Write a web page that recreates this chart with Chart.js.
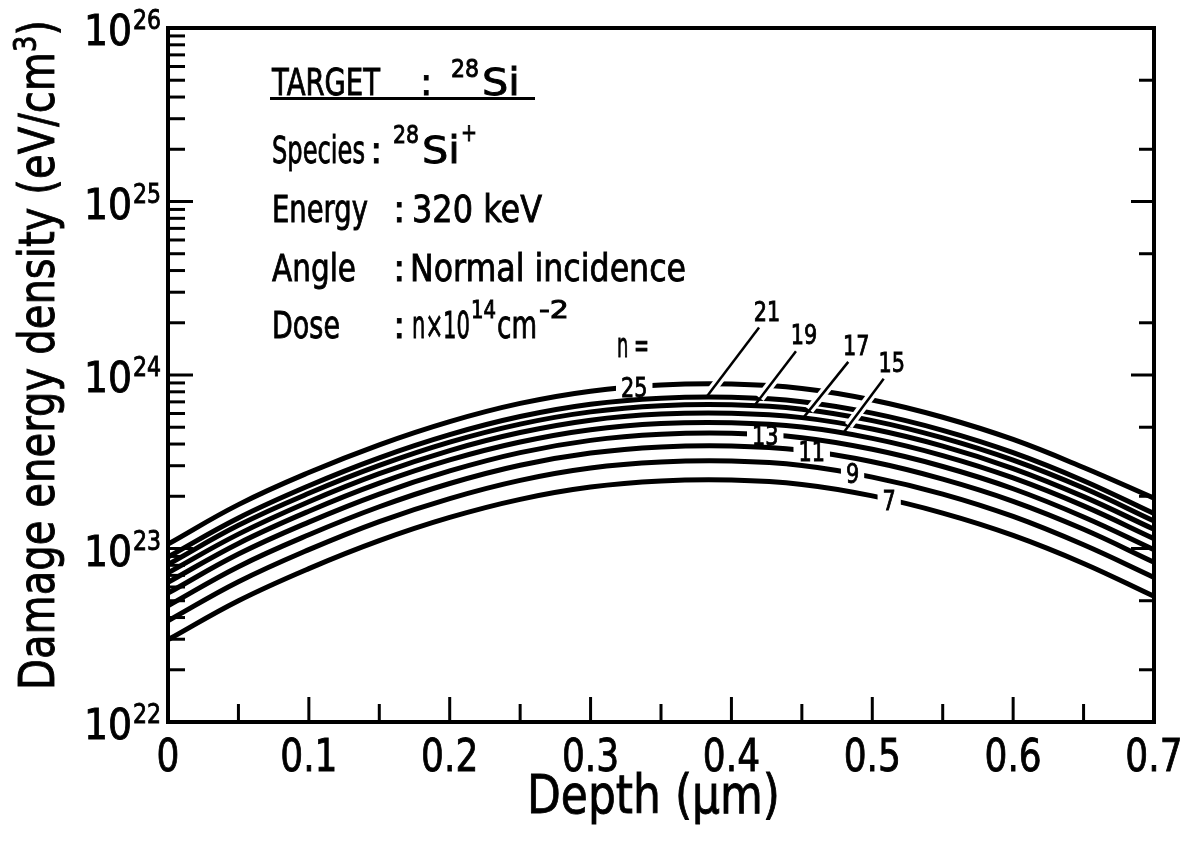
<!DOCTYPE html>
<html>
<head>
<meta charset="utf-8">
<script src="https://cdn.jsdelivr.net/npm/chart.js@4.4.0/dist/chart.umd.min.js"></script>
<style>
    html, body { margin: 0; padding: 0; background: #fff; }
    #damageChart { display: block; }
</style>
</head>
<body>
<canvas id="damageChart" width="1196" height="842"></canvas>
<script>
// depth in micrometres
const depth = [0, 0.05, 0.1, 0.15, 0.2, 0.25, 0.3, 0.35, 0.4, 0.45, 0.5, 0.55, 0.6, 0.65, 0.7];

// damage energy density (eV/cm3), dose = n x 1e14 cm-2
const dens7  = [2.98e22, 5.00e22, 7.66e22, 1.11e23, 1.51e23, 1.92e23, 2.26e23, 2.45e23, 2.48e23, 2.34e23, 2.01e23, 1.60e23, 1.19e23, 8.20e22, 5.30e22];
const dens9  = [3.83e22, 6.43e22, 9.85e22, 1.43e23, 1.94e23, 2.47e23, 2.91e23, 3.15e23, 3.19e23, 3.01e23, 2.58e23, 2.06e23, 1.53e23, 1.05e23, 6.81e22];
const dens11 = [4.68e22, 7.86e22, 1.20e23, 1.74e23, 2.37e23, 3.02e23, 3.55e23, 3.85e23, 3.90e23, 3.68e23, 3.16e23, 2.51e23, 1.87e23, 1.29e23, 8.33e22];
const dens13 = [5.53e22, 9.29e22, 1.42e23, 2.06e23, 2.80e23, 3.57e23, 4.20e23, 4.55e23, 4.61e23, 4.35e23, 3.73e23, 2.97e23, 2.21e23, 1.52e23, 9.84e22];
const dens15 = [6.39e22, 1.07e23, 1.64e23, 2.38e23, 3.24e23, 4.11e23, 4.84e23, 5.25e23, 5.31e23, 5.01e23, 4.31e23, 3.43e23, 2.55e23, 1.76e23, 1.14e23];
const dens17 = [7.24e22, 1.21e23, 1.86e23, 2.70e23, 3.67e23, 4.66e23, 5.49e23, 5.95e23, 6.02e23, 5.68e23, 4.88e23, 3.89e23, 2.89e23, 1.99e23, 1.29e23];
const dens19 = [8.09e22, 1.36e23, 2.08e23, 3.01e23, 4.10e23, 5.21e23, 6.13e23, 6.65e23, 6.73e23, 6.35e23, 5.46e23, 4.34e23, 3.23e23, 2.23e23, 1.44e23];
const dens21 = [8.94e22, 1.50e23, 2.30e23, 3.33e23, 4.53e23, 5.76e23, 6.78e23, 7.35e23, 7.44e23, 7.02e23, 6.03e23, 4.80e23, 3.57e23, 2.46e23, 1.59e23];
const dens25 = [1.06e23, 1.79e23, 2.74e23, 3.96e23, 5.39e23, 6.86e23, 8.07e23, 8.75e23, 8.86e23, 8.36e23, 7.18e23, 5.71e23, 4.25e23, 2.93e23, 1.95e23];

const doseN = [7, 9, 11, 13, 15, 17, 19, 21, 25];
const seriesList = [dens7, dens9, dens11, dens13, dens15, dens17, dens19, dens21, dens25];

// axis ticks
const xMajorTicks = [0, 0.1, 0.2, 0.3, 0.4, 0.5, 0.6, 0.7];
const xTickLabels = ['0', '0.1', '0.2', '0.3', '0.4', '0.5', '0.6', '0.7'];
const xMinorTicks = [0.05, 0.15, 0.25, 0.35, 0.45, 0.55, 0.65];
const yDecades = [22, 23, 24, 25, 26];
const leftMinor = [2, 3, 4, 5, 6, 7, 8, 9];
const rightMinor = [2, 5];

// curve labels: written into a gap of the curve, or at the end of a leader line
const inlineLabels = [
    { n: 25, depth: 0.331 },
    { n: 13, depth: 0.424 },
    { n: 11, depth: 0.457 },
    { n: 9, depth: 0.486 },
    { n: 7, depth: 0.512 }
];
const leaderLabels = [
    { n: 21, depth: 0.382, dx: 53, dy: -70 },
    { n: 19, depth: 0.416, dx: 42, dy: -55 },
    { n: 17, depth: 0.451, dx: 45, dy: -56 },
    { n: 15, depth: 0.479, dx: 41, dy: -55 }
];

const FONT = '"DejaVu Sans", sans-serif';

function valueAt(n, d) {
    const arr = seriesList[doseN.indexOf(n)];
    let i = 0;
    while (i < depth.length - 2 && depth[i + 1] < d) i++;
    const t = (d - depth[i]) / (depth[i + 1] - depth[i]);
    const l = Math.log10(arr[i]) * (1 - t) + Math.log10(arr[i + 1]) * t;
    return Math.pow(10, l);
}

// draw text with a horizontal squeeze, either a fixed factor or fitted to a width
function drawText(ctx, text, x, y, size, opts = {}) {
    ctx.save();
    ctx.font = `${size}px ${FONT}`;
    const w = ctx.measureText(text).width;
    const sx = opts.width ? opts.width / w : (opts.sx || 1);
    ctx.translate(x, y);
    ctx.scale(sx, 1);
    ctx.textAlign = opts.align || 'left';
    ctx.textBaseline = 'alphabetic';
    ctx.fillStyle = '#000';
    ctx.fillText(text, 0, 0);
    // a thin outline thickens the strokes a little, like pen lettering
    ctx.strokeStyle = '#000';
    ctx.lineWidth = 0.9;
    ctx.strokeText(text, 0, 0);
    ctx.restore();
    return w * sx;
}

const annotate = {
    id: 'annotate',
    afterDatasetsDraw(chart) {
        const { ctx, scales: { x, y } } = chart;
        ctx.save();

        // leader lines with a white halo so that crossed curves show a gap
        leaderLabels.forEach(l => {
            const cx = x.getPixelForValue(l.depth);
            const cy = y.getPixelForValue(valueAt(l.n, l.depth));
            const tx = cx + l.dx, ty = cy + l.dy;
            const len = Math.hypot(l.dx, l.dy);
            ctx.lineCap = 'butt';
            ctx.strokeStyle = '#fff';
            ctx.lineWidth = 9;
            ctx.beginPath();
            ctx.moveTo(cx + l.dx / len * 10, cy + l.dy / len * 10);
            ctx.lineTo(tx, ty);
            ctx.stroke();
            ctx.strokeStyle = '#000';
            ctx.lineWidth = 2.5;
            ctx.beginPath();
            ctx.moveTo(cx, cy);
            ctx.lineTo(tx, ty);
            ctx.stroke();
            drawText(ctx, String(l.n), tx + 8, ty - 7, 26, { sx: 0.8, align: 'center' });
        });

        inlineLabels.forEach(l => {
            const cx = x.getPixelForValue(l.depth);
            const cy = y.getPixelForValue(valueAt(l.n, l.depth));
            ctx.font = `26px ${FONT}`;
            const w = ctx.measureText(String(l.n)).width * 0.8;
            ctx.fillStyle = '#fff';
            ctx.fillRect(cx - w / 2 - 5, cy - 6, w + 10, 12);
            drawText(ctx, String(l.n), cx, cy + 9.5, 26, { sx: 0.8, align: 'center' });
        });

        drawText(ctx, 'n =', 617, 357, 34, { width: 32 });
        ctx.restore();
    },
    afterDraw(chart) {
        const { ctx, chartArea: a, scales: { x, y } } = chart;
        ctx.save();
        ctx.strokeStyle = '#000';
        ctx.fillStyle = '#000';

        // frame
        ctx.lineWidth = 4;
        ctx.strokeRect(a.left, a.top, a.right - a.left, a.bottom - a.top);

        // inward ticks
        ctx.lineWidth = 3;
        const tick = (x1, y1, x2, y2) => { ctx.beginPath(); ctx.moveTo(x1, y1); ctx.lineTo(x2, y2); ctx.stroke(); };
        xMajorTicks.forEach(v => { const px = x.getPixelForValue(v); tick(px, a.bottom, px, a.bottom - 25); });
        xMinorTicks.forEach(v => { const px = x.getPixelForValue(v); tick(px, a.bottom, px, a.bottom - 18); });
        yDecades.forEach(k => {
            const py = y.getPixelForValue(Math.pow(10, k));
            tick(a.left, py, a.left + 25, py);
            tick(a.right, py, a.right - 23, py);
            if (k < 26) {
                leftMinor.forEach(m => {
                    const pm = y.getPixelForValue(m * Math.pow(10, k));
                    tick(a.left, pm, a.left + 17, pm);
                });
                rightMinor.forEach(m => {
                    const pm = y.getPixelForValue(m * Math.pow(10, k));
                    tick(a.right, pm, a.right - 15, pm);
                });
            }
        });

        // tick labels
        xMajorTicks.forEach((v, i) => {
            drawText(ctx, xTickLabels[i], x.getPixelForValue(v), 771, 45, { sx: 0.8, align: 'center' });
        });
        yDecades.forEach(k => {
            const py = y.getPixelForValue(Math.pow(10, k));
            drawText(ctx, '10', 84, py + 17, 42, { width: 48 });
            drawText(ctx, String(k), 133, py + 1, 26, { width: 28 });
        });

        // axis titles
        drawText(ctx, 'Depth (\u03bcm)', 527, 813, 54, { width: 253 });
        ctx.save();
        ctx.translate(54, 355);
        ctx.rotate(-Math.PI / 2);
        ctx.font = `50px ${FONT}`;
        const wMain = ctx.measureText('Damage energy density (eV/cm').width;
        ctx.font = `32px ${FONT}`;
        const wSup = ctx.measureText('3').width;
        ctx.font = `50px ${FONT}`;
        const wEnd = ctx.measureText(')').width;
        const sx = 670 / (wMain + wSup + wEnd);
        const x0 = -335;
        drawText(ctx, 'Damage energy density (eV/cm', x0, 0, 50, { sx });
        drawText(ctx, '3', x0 + wMain * sx, -18, 32, { sx });
        drawText(ctx, ')', x0 + (wMain + wSup) * sx, 0, 50, { sx });
        ctx.restore();

        // info block
        drawText(ctx, 'TARGET', 272, 95, 37, { width: 108 });
        drawText(ctx, ':', 420, 95, 37);
        drawText(ctx, '28', 451, 77, 24, { width: 28 });
        drawText(ctx, 'Si', 482, 95, 37, { sx: 1.12 });
        ctx.fillStyle = '#000';
        ctx.fillRect(270, 97, 265, 3);

        drawText(ctx, 'Species', 272, 163, 37, { width: 93 });
        drawText(ctx, ':', 370, 163, 37);
        drawText(ctx, '28', 393, 143, 24, { width: 26 });
        drawText(ctx, 'Si', 422, 163, 37, { sx: 1.12 });
        drawText(ctx, '+', 461, 141, 24, { width: 16 });

        drawText(ctx, 'Energy', 272, 222, 37, { width: 96 });
        drawText(ctx, ':', 393, 222, 37);
        drawText(ctx, '320 keV', 412, 222, 37, { width: 130 });

        drawText(ctx, 'Angle', 272, 281, 37, { width: 84 });
        drawText(ctx, ':', 393, 281, 37);
        drawText(ctx, 'Normal incidence', 410, 281, 37, { width: 276 });

        drawText(ctx, 'Dose', 272, 338, 37, { width: 68 });
        drawText(ctx, ':', 393, 338, 37);
        drawText(ctx, 'n\u00d710', 412, 338, 37, { width: 58 });
        drawText(ctx, '14', 471, 318, 24, { width: 25 });
        drawText(ctx, 'cm', 497, 338, 37, { width: 40 });
        drawText(ctx, '-2', 539, 318, 24, { width: 30 });
        ctx.restore();
    }
};

const datasets = doseN.map((n, i) => ({
    label: 'n = ' + n,
    data: depth.map((d, j) => ({ x: d, y: seriesList[i][j] })),
    borderColor: '#000',
    borderWidth: 5,
    pointRadius: 0,
    fill: false,
    tension: 0.4
}));

new Chart(document.getElementById('damageChart').getContext('2d'), {
    type: 'line',
    data: { datasets },
    options: {
        responsive: false,
        devicePixelRatio: 1,
        animation: false,
        layout: { padding: { left: 168, right: 42, top: 28, bottom: 120 } },
        plugins: { legend: { display: false }, tooltip: { enabled: false } },
        scales: {
            x: { type: 'linear', min: 0, max: 0.7, display: false },
            y: { type: 'logarithmic', min: 1e22, max: 1e26, display: false }
        }
    },
    plugins: [annotate]
});
</script>
</body>
</html>
